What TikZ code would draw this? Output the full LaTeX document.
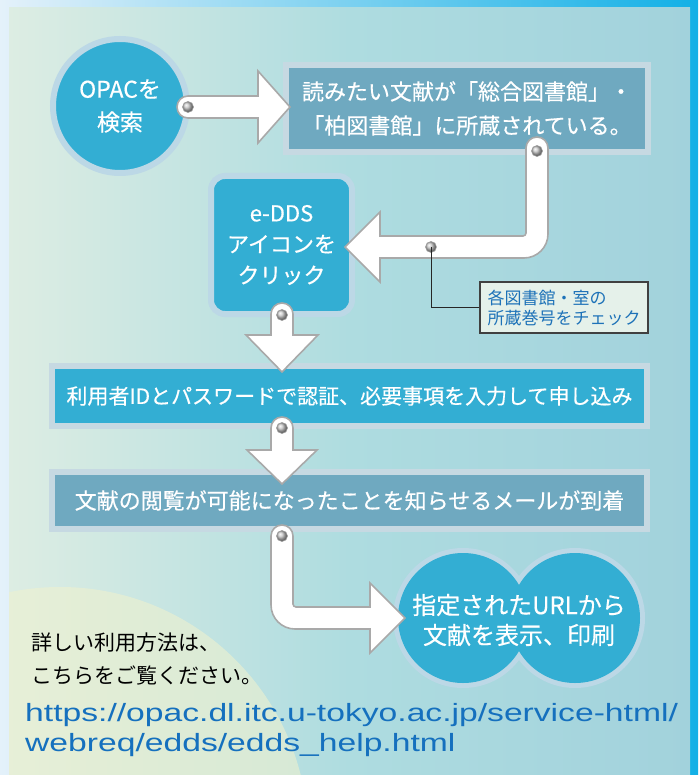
\documentclass[tikz,border=0pt]{standalone}
\usepackage{fontspec}
\usepackage{graphicx}
\setmainfont{Noto Sans CJK JP}
\newfontfamily\heavyjp[FakeBold=0.45]{Noto Sans CJK JP}
\newfontfamily\urlfont{Liberation Sans}
\usetikzlibrary{calc}
\definecolor{outerL}{HTML}{E4F1FA}
\definecolor{outerR}{HTML}{12B0E6}
\definecolor{panelL}{HTML}{DDEDE3}
\definecolor{panelM}{HTML}{AEDCE0}
\definecolor{panelR}{HTML}{A2D2DC}
\definecolor{sunny}{HTML}{EEF1CF}
\definecolor{bright}{HTML}{33AED3}
\definecolor{dull}{HTML}{6FA9C0}
\definecolor{rim}{HTML}{BCD8E6}
\definecolor{boxrim}{HTML}{C6D9E2}
\definecolor{arrowline}{HTML}{A9A9A9}
\definecolor{notefill}{HTML}{E5F1EA}
\definecolor{noteink}{HTML}{1D72B8}
\definecolor{urlink}{HTML}{1570BE}
\tikzset{
  stepbox/.style={rectangle, draw=boxrim, line width=6pt, text=white, align=center, inner sep=0pt},
  blockarrow/.style={fill=white, draw=arrowline, line width=1.6pt},
  knob/.style={ball color=gray!45},
}
\begin{document}
\begin{tikzpicture}[x=1pt,y=-1pt]
\useasboundingbox (0,0) rectangle (698,775);
% background
\fill[left color=outerL, right color=outerR] (0,0) rectangle (698,775);
\fill[left color=panelL, right color=panelR, middle color=panelM] (9,8) rectangle (690,775);
\begin{scope}
  \clip (9,8) rectangle (690,775);
  \fill[sunny, opacity=0.6] (60,835) circle (248);
\end{scope}

% nodes
\node[circle, fill=bright, draw=rim, line width=6pt, minimum size=134pt, text=white, align=center,
      font=\heavyjp\fontsize{23}{33}\selectfont] (opac) at (120,106) {OPACを\\検索};
\node[stepbox, fill=dull, minimum width=362pt, minimum height=87pt,
      font=\heavyjp\fontsize{22}{34}\selectfont] (find) at (467,108.5) {読みたい文献が「総合図書館」・\\「柏図書館」に所蔵されている。};
\node[stepbox, draw=rim, fill=bright, rounded corners=14pt, minimum width=141pt, minimum height=138pt,
      font=\heavyjp\fontsize{22}{31}\selectfont] (edds) at (281.5,245) {e-DDS\\アイコンを\\クリック};
\node[stepbox, fill=bright, minimum width=595pt, minimum height=60pt,
      font=\heavyjp\fontsize{21}{26}\selectfont] (apply) at (349.5,396) {利用者IDとパスワードで認証、必要事項を入力して申し込み};
\node[stepbox, fill=dull, minimum width=595pt, minimum height=57pt,
      font=\heavyjp\fontsize{22}{26}\selectfont] (mail) at (349.5,500.5) {文献の閲覧が可能になったことを知らせるメールが到着};

% cloud (two circles)
\fill[rim] (463,618) circle (70) (575,618) circle (70);
\fill[bright] (463,618) circle (65) (575,618) circle (65);
\node[text=white, align=center, inner sep=0pt, font=\heavyjp\fontsize{24}{30}\selectfont] (view) at (519,620) {指定されたURLから\\文献を表示、印刷};

% knob coordinates
\coordinate (k1) at (188,107);
\coordinate (k2) at (537,151);
\coordinate (k3) at (431,247);
\coordinate (k4) at (282,315);
\coordinate (k5) at (282,428);
\coordinate (k6) at (282,536);

% arrow 1: opac -> find
\draw[blockarrow] (188,96) -- (258,96) -- (258,71) -- (290,107) -- (258,143) -- (258,118) -- (188,118)
  .. controls (181.925,118) and (177,113.075) .. (177,107)
  .. controls (177,100.925) and (181.925,96) .. (188,96) -- cycle;
% arrow 2: find -> edds
\draw[blockarrow] (526,148) .. controls (526,141.925) and (530.925,137) .. (537,137)
  .. controls (543.075,137) and (548,141.925) .. (548,148)
  -- (548,234) .. controls (548,247.25) and (537.25,258) .. (524,258)
  -- (380,258) -- (380,282) -- (345,247) -- (380,212) -- (380,236)
  -- (523,236) .. controls (524.66,236) and (526,234.66) .. (526,233) -- cycle;
% arrow 3: edds -> apply
\draw[blockarrow] (271,314) .. controls (271,307.925) and (275.925,303) .. (282,303)
  .. controls (288.075,303) and (293,307.925) .. (293,314)
  -- (293,335) -- (318,335) -- (282,372) -- (246,335) -- (271,335) -- cycle;
% arrow 4: apply -> mail
\draw[blockarrow] (271,428) .. controls (271,421.925) and (275.925,417) .. (282,417)
  .. controls (288.075,417) and (293,421.925) .. (293,428)
  -- (293,450) -- (317,450) -- (282,484) -- (247,450) -- (271,450) -- cycle;
% arrow 5: mail -> view
\draw[blockarrow] (271,536) .. controls (271,529.925) and (275.925,525) .. (282,525)
  .. controls (288.075,525) and (293,529.925) .. (293,536)
  -- (293,604) .. controls (293,605.66) and (294.34,607) .. (296,607)
  -- (370,607) -- (370,583) -- (405,618) -- (370,653) -- (370,629)
  -- (295,629) .. controls (281.75,629) and (271,618.25) .. (271,605) -- cycle;

% knobs
\foreach \k in {k1,k2,k3,k4,k5,k6}{
  \shade[knob] (\k) circle (5.5);
  \draw[gray!75, line width=0.6pt] (\k) circle (5.5);
}

% callout
\node[draw=black!75, line width=1.2pt, fill=notefill, text=noteink, align=left, inner sep=0pt,
      minimum width=168pt, minimum height=51pt, font=\fontsize{17}{20}\selectfont] (note) at (564,307.5)
      {各図書館・室の\\所蔵巻号をチェック};
\draw[line width=1pt, black!85] (k3) |- (note.west);

% bottom texts
\node[anchor=west, align=left, inner sep=0pt, font=\fontsize{21}{33}\selectfont] (info) at (31,658.5)
  {詳しい利用方法は、\\こちらをご覧ください。};
\node[anchor=west, align=left, inner sep=0pt, text=urlink, font=\urlfont\fontsize{25}{30}\selectfont] (url) at (25,730)
  {\scalebox{1.346}[1]{https://opac.dl.itc.u-tokyo.ac.jp/service-html/}\\\scalebox{1.346}[1]{webreq/edds/edds\_help.html}};
\end{tikzpicture}
\end{document}
